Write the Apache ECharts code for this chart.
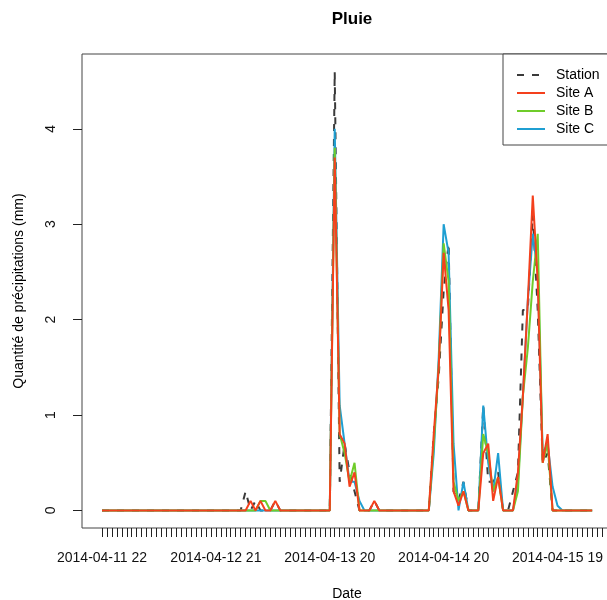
<!DOCTYPE html>
<html>
<head>
<meta charset="utf-8">
<script src="https://cdn.jsdelivr.net/npm/echarts@6/dist/echarts.min.js"></script>
<style>
html,body{margin:0;padding:0;background:#fff;}
#chart{width:607px;height:600px;}
</style>
</head>
<body>
<div id="chart"></div>
<script>
// Tick labels (shown at indices 0, 23, 46, 69, 92 of the hourly series)
const labelIndices = [0, 23, 46, 69, 92];
const tickLabels = ['2014-04-11 22', '2014-04-12 21', '2014-04-13 20', '2014-04-14 20', '2014-04-15 19'];
const seriesNames = ['Station', 'Site A', 'Site B', 'Site C'];

// Rain amounts (mm), one value per hourly index 0..99
const station = [
  0,0,0,0,0,0,0,0,0,0,
  0,0,0,0,0,0,0,0,0,0,
  0,0,0,0,0,0,0,0,0,0.2,
  0,0.1,0,0,0,0.1,0,0,0,0,
  0,0,0,0,0,0,0,4.6,0.3,0.7,
  0.4,0.2,0,0,0,0.1,0,0,0,0,
  0,0,0,0,0,0,0,0.8,1.4,2.3,
  2.8,0.2,0.1,0.3,0,0,0,1.1,0.3,0.3,
  0.4,0,0,0.2,0.4,2.1,2.1,3.1,2.1,0.5,
  0.6,0,0,0,0,0,0,0,0,0
];
const siteA = [
  0,0,0,0,0,0,0,0,0,0,
  0,0,0,0,0,0,0,0,0,0,
  0,0,0,0,0,0,0,0,0,0,
  0.1,0,0.1,0,0,0.1,0,0,0,0,
  0,0,0,0,0,0,0,3.7,0.8,0.7,
  0.25,0.4,0,0,0,0.1,0,0,0,0,
  0,0,0,0,0,0,0,0.8,1.5,2.7,
  2.1,0.2,0.05,0.2,0,0,0,0.6,0.7,0.1,
  0.35,0,0,0,0.4,1.2,2.2,3.3,2.4,0.5,
  0.8,0,0,0,0,0,0,0,0,0
];
const siteB = [
  0,0,0,0,0,0,0,0,0,0,
  0,0,0,0,0,0,0,0,0,0,
  0,0,0,0,0,0,0,0,0,0,
  0,0,0.1,0.1,0,0,0,0,0,0,
  0,0,0,0,0,0,0,3.8,0.8,0.6,
  0.3,0.5,0,0,0,0,0,0,0,0,
  0,0,0,0,0,0,0,0.7,1.5,2.8,
  2.4,0.3,0.1,0.2,0,0,0,0.8,0.6,0.2,
  0.35,0,0,0,0.2,1.2,1.7,2.4,2.9,0.5,
  0.7,0,0,0,0,0,0,0,0,0
];
const siteC = [
  0,0,0,0,0,0,0,0,0,0,
  0,0,0,0,0,0,0,0,0,0,
  0,0,0,0,0,0,0,0,0,0,
  0,0,0,0,0,0,0,0,0,0,
  0,0,0,0,0,0,0,4.0,1.1,0.7,
  0.3,0.3,0.1,0,0,0,0,0,0,0,
  0,0,0,0,0,0,0,0.6,1.6,3.0,
  2.7,0.7,0,0.3,0,0,0,1.1,0.5,0.2,
  0.6,0,0,0,0.3,1.2,2.2,2.9,2.5,0.6,
  0.7,0.25,0.05,0,0,0,0,0,0,0
];
const yTicks = [0, 1, 2, 3, 4];

const FONT = '"Liberation Sans", Arial, sans-serif';
const toPairs = arr => arr.map((v, i) => [i, v]);
const xTickValues = [];
for (let i = 0; i <= 104; i++) xTickValues.push(i);

const chart = echarts.init(document.getElementById('chart'), null, {renderer: 'canvas'});
chart.setOption({
  animation: false,
  backgroundColor: '#ffffff',
  textStyle: {fontFamily: FONT},
  title: {
    text: 'Pluie',
    left: 347, top: 6, textAlign: 'center',
    textStyle: {fontFamily: FONT, fontSize: 17, fontWeight: 'bold', color: '#000'}
  },
  legend: {
    data: seriesNames,
    orient: 'vertical',
    left: 503, top: 54,
    padding: [14, 12, 9, 13],
    itemWidth: 28, itemHeight: 14, itemGap: 4,
    backgroundColor: '#ffffff',
    borderColor: '#444', borderWidth: 1, borderRadius: 0,
    itemStyle: {opacity: 0},
    textStyle: {fontFamily: FONT, fontSize: 14, color: '#000', padding: [0, 0, 0, 6]}
  },
  grid: {
    left: 82, top: 54, right: -5, bottom: 72,
    show: true, borderColor: '#444', borderWidth: 1,
    containLabel: false, outerBoundsMode: 'none'
  },
  xAxis: {
    type: 'value',
    min: -4.04, max: 103,
    name: 'Date', nameLocation: 'middle', nameGap: 59,
    nameTextStyle: {fontFamily: FONT, fontSize: 14, color: '#000'},
    axisLine: {show: false, onZero: false},
    splitLine: {show: false},
    axisTick: {show: true, length: 9, customValues: xTickValues, lineStyle: {color: '#222', width: 1}},
    axisLabel: {
      customValues: labelIndices, margin: 23,
      fontFamily: FONT, fontSize: 14, color: '#111',
      formatter: v => { const k = labelIndices.indexOf(Math.round(v)); return k >= 0 ? tickLabels[k] : ''; }
    }
  },
  yAxis: {
    type: 'value',
    min: -0.184, max: 4.784,
    name: 'Quantité de précipitations (mm)', nameLocation: 'middle', nameGap: 56,
    nameTextStyle: {fontFamily: FONT, fontSize: 14, color: '#000'},
    axisLine: {show: false, onZero: false},
    splitLine: {show: false},
    axisTick: {show: true, length: 9, customValues: yTicks, lineStyle: {color: '#222', width: 1}},
    axisLabel: {
      customValues: yTicks, rotate: 90, margin: 24,
      fontFamily: FONT, fontSize: 14, color: '#111'
    }
  },
  series: [
    {name: 'Station', type: 'line', data: toPairs(station), symbol: 'none', z: 2,
     lineStyle: {color: '#3a3a3a', width: 2, type: [7, 8]}, itemStyle: {color: '#3a3a3a', opacity: 0}},
    {name: 'Site C', type: 'line', data: toPairs(siteC), symbol: 'none', z: 3,
     lineStyle: {color: '#1f9fd2', width: 2}, itemStyle: {color: '#1f9fd2', opacity: 0}},
    {name: 'Site B', type: 'line', data: toPairs(siteB), symbol: 'none', z: 4,
     lineStyle: {color: '#6fcc2a', width: 2}, itemStyle: {color: '#6fcc2a', opacity: 0}},
    {name: 'Site A', type: 'line', data: toPairs(siteA), symbol: 'none', z: 5,
     lineStyle: {color: '#f4401d', width: 2}, itemStyle: {color: '#f4401d', opacity: 0}}
  ]
});
</script>
</body>
</html>
